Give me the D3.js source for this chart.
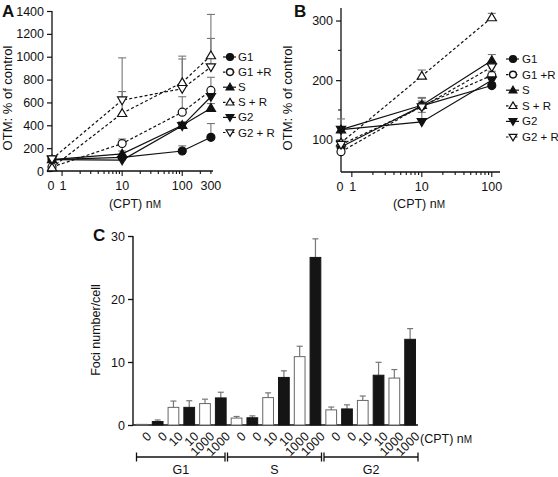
<!DOCTYPE html>
<html><head><meta charset="utf-8">
<script src="https://cdn.jsdelivr.net/npm/d3@7"></script>
<style>
body{margin:0;background:#fff}
text{font-family:"Liberation Sans",Arial,Helvetica,sans-serif;fill:#111}
</style>
</head><body>
<svg id="c" width="558" height="477"></svg>
<script>
// ---------- DATA ----------
const seriesNames = ["G1", "G1 +R", "S", "S + R", "G2", "G2 + R"];

// Panel A
const doseA = [0, 10, 100, 300];
const A_G1   = [100, 120, 175, 295];
const A_G1R  = [35, 240, 515, 705];
const A_S    = [100, 150, 400, 550];
const A_SR   = [30, 505, 775, 1010];
const A_G2   = [100, 95, 395, 650];
const A_G2R  = [105, 620, 720, 910];
const A_errG1  = [5, 20, 45, 120];
const A_errG1R = [10, 40, 135, 115];
const A_errS   = [10, 25, 30, 40];
const A_errSR  = [10, 190, 230, 360];
const A_errG2  = [10, 15, 30, 40];
const A_errG2R = [10, 370, 260, 250];
const yTicksA = [0, 200, 400, 600, 800, 1000, 1200, 1400];
const xLabelsA = ["0", "1", "10", "100", "300"];

// Panel B
const doseB = [0, 10, 100];
const B_G1   = [88, 157, 191];
const B_G1R  = [80, 157, 208];
const B_S    = [117, 158, 233];
const B_SR   = [95, 207, 305];
const B_G2   = [117, 130, 200];
const B_G2R  = [92, 155, 222];
const B_errG1  = [4, 8, 5];
const B_errG1R = [4, 14, 7];
const B_errS   = [18, 12, 10];
const B_errSR  = [5, 10, 7];
const B_errG2  = [5, 16, 8];
const B_errG2R = [4, 15, 8];
const yTicksB = [100, 200, 300];
const yMinorB = [150, 250];
const xLabelsB = ["0", "1", "10", "100"];

// Panel C
const doseC = ["0","0","10","10","1000","1000","0","0","10","10","1000","1000","0","0","10","10","1000","1000"];
const phaseC = ["G1", "S", "G2"];
const fociC = [0.1, 0.55, 2.8, 2.8, 3.4, 4.3, 1.1, 1.15, 4.35, 7.55, 10.85, 26.6, 2.4, 2.55, 3.9, 7.9, 7.45, 13.6];
const fociErrC = [0, 0.25, 1.0, 1.05, 0.7, 0.9, 0.25, 0.3, 0.75, 1.05, 1.65, 2.95, 0.45, 0.65, 0.7, 2.05, 1.35, 1.7];
const yTicksC = [0, 10, 20, 30];

// ---------- DRAWING ----------
const svg = d3.select("#c");
const ERR = "#777";
const FONT = "Liberation Sans, Arial, sans-serif";
const styles = [
  {shape: "circle", open: false, dash: false},
  {shape: "circle", open: true,  dash: true},
  {shape: "up",     open: false, dash: false},
  {shape: "up",     open: true,  dash: true},
  {shape: "down",   open: false, dash: false},
  {shape: "down",   open: true,  dash: true}
];
function marker(g, st, x, y, k) {
  k = k || 1;
  let s;
  if (st.shape === "circle") {
    s = g.append("circle").attr("cx", x).attr("cy", y).attr("r", 4 * k);
  } else {
    const dir = st.shape === "up" ? 1 : -1;
    const p = d3.path();
    p.moveTo(0, -4.6 * dir); p.lineTo(4.6, 3.2 * dir); p.lineTo(-4.6, 3.2 * dir); p.closePath();
    s = g.append("path").attr("d", p.toString())
      .attr("transform", `translate(${x},${y}) scale(${k})`);
  }
  s.attr("fill", st.open ? "#fff" : "#111").attr("stroke", "#111").attr("stroke-width", 1.2 / k);
}
function cpt(g, x, y, anchor) {
  const t = g.append("text").attr("x", x).attr("y", y).attr("text-anchor", anchor || "middle")
    .attr("font-size", 12.5).text("(CPT) n");
  t.append("tspan").attr("font-size", 10).text("M");
}

function linePanel(cfg) {
  const g = svg.append("g");
  const x = d3.scaleLog().domain(cfg.xDomain).range(cfg.xRange);
  const y = d3.scaleLinear().domain(cfg.yDomain).range(cfg.yRange);
  const xv = d => d === 0 ? cfg.xDomain[0] : d;
  const yb = cfg.yRange[0];
  g.append("line").attr("x1", cfg.xRange[0]).attr("x2", cfg.xRange[0])
    .attr("y1", cfg.yRange[1]).attr("y2", yb).attr("stroke", "#111").attr("stroke-width", 1.3);
  g.append("line").attr("x1", cfg.xRange[0]).attr("x2", cfg.xRange[1])
    .attr("y1", yb).attr("y2", yb).attr("stroke", "#111").attr("stroke-width", 1.3);
  const ya = d3.axisLeft(y).tickValues(cfg.yTicks).tickFormat(d3.format("d")).tickSize(5).tickPadding(3).tickSizeOuter(0);
  const yg = g.append("g").attr("transform", `translate(${cfg.xRange[0]},0)`).call(ya);
  yg.select(".domain").remove();
  yg.selectAll("text").attr("font-size", 12.5).style("font-family", FONT);
  yg.selectAll("line").attr("stroke", "#111").attr("stroke-width", 1.2);
  if (cfg.yMinor) {
    cfg.yMinor.forEach(v => g.append("line").attr("x1", cfg.xRange[0] - 3).attr("x2", cfg.xRange[0])
      .attr("y1", y(v)).attr("y2", y(v)).attr("stroke", "#111").attr("stroke-width", 1.1));
  }
  const minor = x.ticks().filter(v => v >= 1 && v <= cfg.xDomain[1]);
  minor.forEach(v => {
    const major = Math.abs(Math.log10(v) - Math.round(Math.log10(v))) < 1e-9;
    g.append("line").attr("x1", x(v)).attr("x2", x(v)).attr("y1", yb).attr("y2", yb + (major ? 5 : 3))
      .attr("stroke", "#111").attr("stroke-width", 1.1);
  });
  cfg.xLabels.forEach(l => {
    const v = +l === 0 ? cfg.xDomain[0] : +l;
    g.append("text").attr("x", x(v) + (l === "0" ? -1 : (l === "1" ? 1 : 0))).attr("y", yb + 19)
      .attr("text-anchor", "middle").attr("font-size", 12.5).text(l);
  });
  cpt(g, cfg.xTitleX, 208);
  g.append("text").attr("transform", `translate(${cfg.yTitleX},${cfg.yTitleY}) rotate(-90)`)
    .attr("text-anchor", "middle").attr("font-size", 13).text("OTM: % of control");
  g.append("text").attr("x", cfg.letterX).attr("y", 17).attr("font-size", 17).attr("font-weight", "bold").text(cfg.letter);

  cfg.series.forEach((s, i) => {
    s.vals.forEach((v, j) => {
      const e = s.err[j];
      if (!e) return;
      const cx = x(xv(cfg.dose[j]));
      g.append("line").attr("x1", cx).attr("x2", cx).attr("y1", y(v)).attr("y2", y(v + e))
        .attr("stroke", ERR).attr("stroke-width", 1.1);
      g.append("line").attr("x1", cx - 4).attr("x2", cx + 4).attr("y1", y(v + e)).attr("y2", y(v + e))
        .attr("stroke", ERR).attr("stroke-width", 1.1);
    });
  });
  cfg.series.forEach((s, i) => {
    const st = styles[i];
    const line = d3.line().x((d, j) => x(xv(cfg.dose[j]))).y(d => y(d));
    g.append("path").attr("d", line(s.vals)).attr("fill", "none").attr("stroke", "#111")
      .attr("stroke-width", 1.2).attr("stroke-dasharray", st.dash ? "3,2.2" : null);
  });
  cfg.series.forEach((s, i) => {
    s.vals.forEach((v, j) => marker(g, styles[i], x(xv(cfg.dose[j])), y(v)));
  });
  seriesNames.forEach((n, i) => {
    const ly = cfg.legY + i * cfg.legStep;
    const st = styles[i];
    g.append("line").attr("x1", cfg.legX - 7).attr("x2", cfg.legX + 6).attr("y1", ly).attr("y2", ly)
      .attr("stroke", "#111").attr("stroke-width", 1.2).attr("stroke-dasharray", st.dash ? "2.5,2" : null);
    marker(g, st, cfg.legX, ly, 0.85);
    g.append("text").attr("x", cfg.legX + cfg.legGap).attr("y", ly + 4).attr("font-size", 11.5).text(n);
  });
}

linePanel({
  letter: "A", letterX: 2,
  dose: doseA,
  xDomain: [0.68, 325], xRange: [52, 213],
  yDomain: [0, 1400], yRange: [171, 11],
  yTicks: yTicksA, xLabels: xLabelsA,
  xTitleX: 135, yTitleX: 12, yTitleY: 98,
  legX: 230, legY: 57, legStep: 15.1, legGap: 8,
  series: [
    {vals: A_G1, err: A_errG1}, {vals: A_G1R, err: A_errG1R},
    {vals: A_S, err: A_errS}, {vals: A_SR, err: A_errSR},
    {vals: A_G2, err: A_errG2}, {vals: A_G2R, err: A_errG2R}
  ]
});
linePanel({
  letter: "B", letterX: 294,
  dose: doseB,
  xDomain: [0.70, 131], xRange: [341, 500],
  yDomain: [46, 321], yRange: [172, 8],
  yTicks: yTicksB, yMinor: yMinorB, xLabels: xLabelsB,
  xTitleX: 419, yTitleX: 292, yTitleY: 98,
  legX: 513, legY: 59, legStep: 15.6, legGap: 9,
  series: [
    {vals: B_G1, err: B_errG1}, {vals: B_G1R, err: B_errG1R},
    {vals: B_S, err: B_errS}, {vals: B_SR, err: B_errSR},
    {vals: B_G2, err: B_errG2}, {vals: B_G2R, err: B_errG2R}
  ]
});

// Panel C
(function () {
  const g = svg.append("g");
  const x = d3.scaleBand().domain(d3.range(fociC.length)).range([134, 418]).paddingInner(0.32).paddingOuter(0.16);
  const y = d3.scaleLinear().domain([0, 30]).range([425, 236]);
  g.append("line").attr("x1", 133).attr("x2", 133).attr("y1", y(30)).attr("y2", y(0)).attr("stroke", "#111").attr("stroke-width", 1.4);
  g.append("line").attr("x1", 133).attr("x2", 418).attr("y1", y(0)).attr("y2", y(0)).attr("stroke", "#111").attr("stroke-width", 1.4);
  const ya = d3.axisLeft(y).tickValues(yTicksC).tickSize(5).tickPadding(3).tickSizeOuter(0);
  const yg = g.append("g").attr("transform", "translate(133,0)").call(ya);
  yg.select(".domain").remove();
  yg.selectAll("text").attr("font-size", 12.5).style("font-family", FONT);
  yg.selectAll("line").attr("stroke", "#111").attr("stroke-width", 1.3);
  g.append("text").attr("transform", "translate(100,330) rotate(-90)").attr("text-anchor", "middle")
    .attr("font-size", 12.5).text("Foci number/cell");
  g.append("text").attr("x", 93).attr("y", 241).attr("font-size", 17).attr("font-weight", "bold").text("C");

  fociC.forEach((v, i) => {
    const bx = x(i), bw = x.bandwidth(), cx = bx + bw / 2;
    const e = fociErrC[i];
    if (e) {
      g.append("line").attr("x1", cx).attr("x2", cx).attr("y1", y(v)).attr("y2", y(v + e)).attr("stroke", ERR).attr("stroke-width", 1.2);
      g.append("line").attr("x1", cx - 3).attr("x2", cx + 3).attr("y1", y(v + e)).attr("y2", y(v + e)).attr("stroke", ERR).attr("stroke-width", 1.2);
    }
    const black = i % 2 === 1;
    g.append("rect").attr("x", bx).attr("y", y(v)).attr("width", bw).attr("height", y(0) - y(v))
      .attr("fill", black ? "#151515" : "#fff").attr("stroke", black ? "#151515" : "#666").attr("stroke-width", 1);
    g.append("text").attr("transform", `translate(${cx + 4},${431}) rotate(-45)`).attr("text-anchor", "end")
      .attr("dy", "0.7em").attr("font-size", 12.5).text(doseC[i]);
  });
  cpt(g, 420, 443, "start");

  const by = 457;
  const groups = [[136.5, 225], [227.5, 321.5], [324, 418]];
  groups.forEach((gr, k) => {
    g.append("line").attr("x1", gr[0]).attr("x2", gr[1]).attr("y1", by).attr("y2", by).attr("stroke", "#111").attr("stroke-width", 1.3);
    [gr[0], gr[1]].forEach(xx => g.append("line").attr("x1", xx).attr("x2", xx).attr("y1", by - 4.5).attr("y2", by + 4.5).attr("stroke", "#111").attr("stroke-width", 1.3));
    g.append("text").attr("x", (gr[0] + gr[1]) / 2).attr("y", 474).attr("text-anchor", "middle").attr("font-size", 12.5).text(phaseC[k]);
  });
})();
</script>
</body></html>
